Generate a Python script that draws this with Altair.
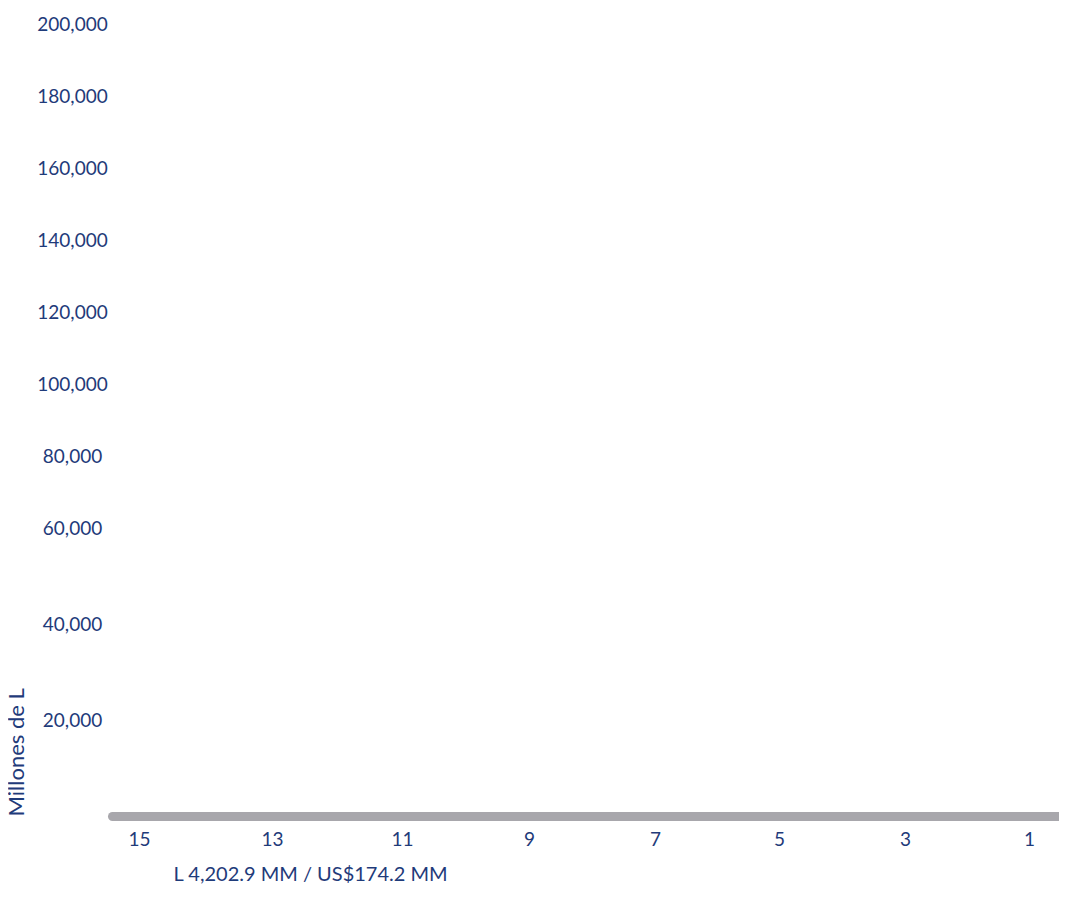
import altair as alt
import pandas as pd

# Data
periods = [15, 14, 13, 12, 11, 10, 9, 8, 7, 6, 5, 4, 3, 2, 1]
values = [0] * len(periods)
tick_periods = [15, 13, 11, 9, 7, 5, 3, 1]
y_ticks = [20000, 40000, 60000, 80000, 100000, 120000, 140000, 160000, 180000, 200000]
total_label = "L 4,202.9 MM / US$174.2 MM"
y_title = "Millones de L"

df = pd.DataFrame({"periodo": periods, "valor": values})

BLUE = "#1f3b7a"
GRAY = "#a8a7ac"
FONT = "Lato"

W, H = 947, 792

x_scale = alt.Scale(
    domain=[15.42, 15, 13, 11, 9, 7, 5, 3, 1, 0.5],
    range=[0, 27, 160, 290, 417, 543, 667, 793, 917, W],
)
y_scale = alt.Scale(domain=[0, 60000, 200000], range=[H, 504, 0])

chart = (
    alt.Chart(df)
    .mark_line(color=GRAY, strokeWidth=9, strokeCap="round", opacity=0)
    .encode(
        x=alt.X(
            "periodo:Q",
            scale=x_scale,
            axis=alt.Axis(
                values=tick_periods,
                title=total_label,
                titleAnchor="start",
                titleAlign="left",
                titleBaseline="middle",
                titleX=61,
                titleY=58,
                titleFont=FONT,
                titleFontSize=20,
                titleFontWeight="normal",
                titleColor=BLUE,
                labelFont=FONT,
                labelFontSize=19,
                labelColor=BLUE,
                labelBaseline="middle",
                labelPadding=23,
                labelFlush=False,
                labelOverlap=False,
                ticks=False,
                tickSize=0,
                grid=False,
                domain=True,
                domainColor=GRAY,
                domainWidth=9,
                domainCap="round",
            ),
        ),
        y=alt.Y(
            "valor:Q",
            scale=y_scale,
            axis=alt.Axis(
                values=y_ticks,
                format=",.0f",
                title=y_title,
                titleAnchor="start",
                titleAngle=-90,
                titleAlign="left",
                titleBaseline="middle",
                titleX=-96,
                titleY=H,
                titleFont=FONT,
                titleFontSize=22,
                titleFontWeight="normal",
                titleColor=BLUE,
                labelFont=FONT,
                labelFontSize=19,
                labelColor=BLUE,
                labelAlign="center",
                labelBaseline="middle",
                labelPadding=40,
                labelOverlap=False,
                labelFlush=False,
                ticks=False,
                tickSize=0,
                grid=False,
                domain=False,
            ),
        ),
    )
    .properties(
        width=W,
        height=H,
        autosize=alt.AutoSizeParams(type="none"),
        padding={"left": 104, "top": 16, "right": 0, "bottom": 80},
    )
    .configure_view(stroke=None)
)

chart.save("out.html", embed_options={"renderer": "svg", "actions": False})
